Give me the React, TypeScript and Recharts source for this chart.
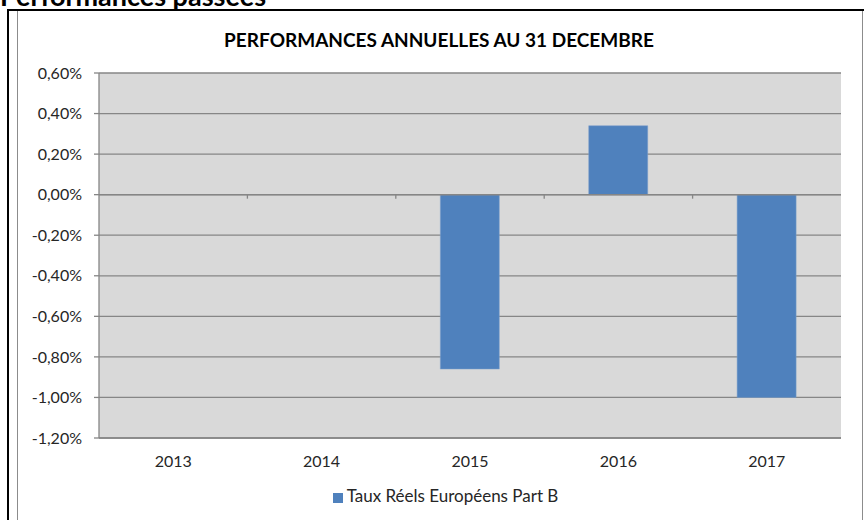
import React from 'react';
import { BarChart, Bar, XAxis, YAxis, CartesianGrid, Legend, ReferenceLine } from 'recharts';

const years = ['2013', '2014', '2015', '2016', '2017'];
const perf = [null, null, -0.86, 0.34, -1.0];
const yTicks = [-1.2, -1.0, -0.8, -0.6, -0.4, -0.2, 0, 0.2, 0.4, 0.6];

const data = years.map((y, i) => ({ year: y, value: perf[i] }));

const fmt = (v: number) => v.toFixed(2).replace('.', ',') + '%';

const FONT = 'Lato, "Open Sans", sans-serif';

// zero line with tick marks between categories (Excel style)
const ZeroLine = (props: any) => {
  const { x1, x2, y1 } = props;
  const step = (x2 - x1) / years.length;
  const marks = [];
  for (let i = 1; i < years.length; i++) {
    const x = x1 + step * i;
    marks.push(<line key={i} x1={x} x2={x} y1={y1} y2={y1 + 4} stroke="#868686" strokeWidth={1.3} />);
  }
  return (
    <g>
      <line x1={x1} x2={x2} y1={y1} y2={y1} stroke="#868686" strokeWidth={1.5} />
      {marks}
    </g>
  );
};

const App: React.FC = () => {
  return (
    <div style={{ position: 'absolute', left: 0, top: 0, width: 864, height: 520, overflow: 'hidden', background: '#fff', fontFamily: FONT }}>
      <div style={{ position: 'absolute', left: 0, top: -18, fontSize: 27, fontWeight: 700, lineHeight: '27px', whiteSpace: 'nowrap', color: '#000' }}>
        Performances passées
      </div>
      <div style={{ position: 'absolute', left: 7, top: 9, width: 860, height: 520, borderLeft: '2px solid #000', borderTop: '2px solid #000' }} />
      <div style={{ position: 'absolute', left: 17, top: 11, width: 844, height: 520, borderLeft: '1px solid #8c8c8c', borderRight: '1px solid #8c8c8c' }} />
      <div style={{ position: 'absolute', left: 0, top: 28, width: 878, textAlign: 'center', fontSize: 19, fontWeight: 700, color: '#000' }}>
        PERFORMANCES ANNUELLES AU 31 DECEMBRE
      </div>
      <div style={{ position: 'absolute', left: 0, top: 0 }}>
        <BarChart width={864} height={520} data={data} margin={{ top: 73, right: 23, bottom: 31, left: 0 }} barCategoryGap="30%">
          <CartesianGrid vertical={false} stroke="#868686" strokeWidth={1.3} fill="#d9d9d9" fillOpacity={1} />
          <XAxis
            dataKey="year"
            tickLine={false}
            axisLine={{ stroke: '#868686', strokeWidth: 1.3 }}
            tick={{ fill: '#262626', fontSize: 16, fontFamily: FONT }}
            tickMargin={12}
          />
          <YAxis
            width={99}
            domain={[-1.2, 0.6]}
            ticks={yTicks}
            interval={0}
            tickFormatter={fmt}
            tickSize={5}
            tickMargin={12}
            tickLine={{ stroke: '#868686', strokeWidth: 1.3 }}
            axisLine={{ stroke: '#868686', strokeWidth: 1.3 }}
            tick={{ fill: '#262626', fontSize: 16, fontFamily: FONT }}
          />
          <ReferenceLine y={0} shape={ZeroLine} />
          <Bar dataKey="value" name="Taux Réels Européens Part B" fill="#4f81bd" stroke="#7fa0cc" strokeWidth={0.5} isAnimationActive={false} />
          <Legend
            iconType="square"
            iconSize={10}
            wrapperStyle={{ left: 0, width: 901, top: 485, fontSize: 17, fontFamily: FONT }}
            formatter={(v: string) => <span style={{ color: '#262626' }}>{v}</span>}
          />
        </BarChart>
      </div>
    </div>
  );
};

export default App;
